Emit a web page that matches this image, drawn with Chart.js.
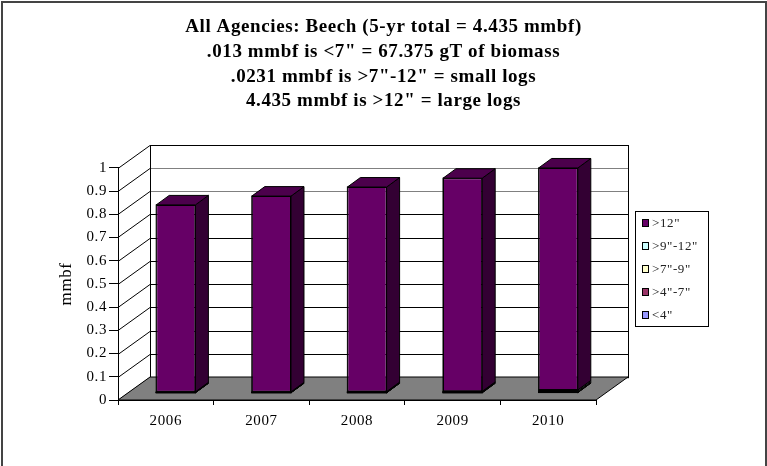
<!DOCTYPE html>
<html>
<head>
<meta charset="utf-8">
<script src="https://cdn.jsdelivr.net/npm/chart.js@4.4.1/dist/chart.umd.min.js"></script>
<style>
  body { margin: 0; background: #fff; }
  canvas { display: block; }
</style>
</head>
<body>
<canvas id="chart" width="767" height="466"></canvas>
<script>
// data (mmbf per year, stacked by diameter class)
const years = ['2006', '2007', '2008', '2009', '2010']
const under4 = [0.001, 0.001, 0.001, 0.001, 0.002]
const from4to7 = [0.001, 0.001, 0.001, 0.002, 0.002]
const from7to9 = [0.001, 0.001, 0.002, 0.002, 0.004]
const from9to12 = [0.002, 0.002, 0.002, 0.002, 0.0051]
const over12 = [0.805, 0.843, 0.881, 0.918, 0.956]

const seriesLabels = ['<4"', '>4"-7"', '>7"-9"', '>9"-12"', '>12"']
const seriesColors = ['#9999ff', '#993366', '#ffffcc', '#ccffff', '#660066']
const sideColors = ['#4d4d80', '#4d1a33', '#808066', '#668080', '#330033']
const topColor = '#4c004c'

const titleLines = [
  'All Agencies: Beech (5-yr total = 4.435 mmbf)',
  '.013 mmbf is <7" = 67.375 gT of biomass',
  '.0231 mmbf is >7"-12" = small logs',
  '4.435 mmbf is >12" = large logs'
]

const SERIF = '"Liberation Serif", "Times New Roman", serif'

// fake 3D geometry (pixels)
const WALL_DX = 32, WALL_DY = -23
const BAR_OFF_X = 10, BAR_OFF_Y = -7
const BAR_DX = 13, BAR_DY = -9.5

const excel3d = {
  id: 'excel3d',
  beforeDraw(chart) {
    const { ctx, chartArea: a } = chart
    const y = chart.scales.y
    ctx.save()
    ctx.fillStyle = '#fff'
    ctx.fillRect(0, 0, chart.width, chart.height)
    // outer frame
    ctx.strokeStyle = '#444'
    ctx.lineWidth = 2
    ctx.strokeRect(2, 2, chart.width - 3, chart.height + 10)

    ctx.lineWidth = 1
    ctx.strokeStyle = '#000'
    const bl = a.left + WALL_DX, br = a.right + WALL_DX
    const bt = a.top + WALL_DY, bb = a.bottom + WALL_DY

    // back wall
    ctx.fillStyle = '#fff'
    ctx.fillRect(bl, bt, br - bl, bb - bt)
    // gridlines on back wall + side wall
    y.ticks.forEach(t => {
      const py = Math.round(y.getPixelForValue(t.value)) + 0.5
      if (t.value > 0 && t.value < 1) {
        ctx.strokeStyle = t.value >= 0.75 ? '#808080' : '#000'
        ctx.beginPath()
        ctx.moveTo(bl, py + WALL_DY)
        ctx.lineTo(br, py + WALL_DY)
        ctx.stroke()
      }
      ctx.strokeStyle = '#000'
      ctx.beginPath()
      ctx.moveTo(a.left, py)
      ctx.lineTo(bl, py + WALL_DY)
      ctx.stroke()
    })
    ctx.strokeStyle = '#000'
    ctx.strokeRect(Math.round(bl) + 0.5, Math.round(bt) + 0.5, br - bl, bb - bt)

    // floor
    ctx.fillStyle = '#808080'
    ctx.beginPath()
    ctx.moveTo(a.left, a.bottom)
    ctx.lineTo(a.right, a.bottom)
    ctx.lineTo(br, bb)
    ctx.lineTo(bl, bb)
    ctx.closePath()
    ctx.fill()
    ctx.stroke()
    ctx.restore()
    // Excel renders its Times text a little wide
    ctx.letterSpacing = '0.6px'
  },
  beforeDatasetsDraw(chart) {
    chart.ctx.save()
    chart.ctx.translate(BAR_OFF_X, BAR_OFF_Y)
  },
  afterDatasetsDraw(chart) {
    const ctx = chart.ctx
    ctx.restore()
    ctx.save()
    ctx.lineWidth = 1
    ctx.strokeStyle = '#000'
    const n = chart.data.datasets.length
    years.forEach((_, i) => {
      for (let d = 0; d < n; d++) {
        const bar = chart.getDatasetMeta(d).data[i]
        const left = bar.x - bar.width / 2 + BAR_OFF_X
        const right = bar.x + bar.width / 2 + BAR_OFF_X
        const top = bar.y + BAR_OFF_Y
        const bottom = bar.base + BAR_OFF_Y
        // front outline (keeps thin slices visible)
        ctx.strokeRect(left, top, right - left, bottom - top)
        // side face
        ctx.fillStyle = sideColors[d]
        ctx.beginPath()
        ctx.moveTo(right, top)
        ctx.lineTo(right + BAR_DX, top + BAR_DY)
        ctx.lineTo(right + BAR_DX, bottom + BAR_DY)
        ctx.lineTo(right, bottom)
        ctx.closePath()
        ctx.fill()
        ctx.stroke()
        if (d === n - 1) {
          ctx.fillStyle = topColor
          ctx.beginPath()
          ctx.moveTo(left, top)
          ctx.lineTo(left + BAR_DX, top + BAR_DY)
          ctx.lineTo(right + BAR_DX, top + BAR_DY)
          ctx.lineTo(right, top)
          ctx.closePath()
          ctx.fill()
          ctx.stroke()
        }
      }
    })
    ctx.restore()
  },
  afterDraw(chart) {
    // legend box on the right, top series first
    const ctx = chart.ctx
    ctx.save()
    ctx.strokeStyle = '#000'
    ctx.lineWidth = 1
    ctx.strokeRect(635.5, 211.5, 73, 115)
    ctx.font = '13px ' + SERIF
    ctx.textBaseline = 'middle'
    ctx.textAlign = 'left'
    const n = seriesLabels.length
    for (let k = 0; k < n; k++) {
      const d = n - 1 - k
      const cy = 223 + k * 23
      ctx.fillStyle = seriesColors[d]
      ctx.fillRect(642, cy - 3.5, 7, 7)
      ctx.strokeRect(642.5, cy - 3.5, 6, 7)
      ctx.fillStyle = '#222'
      ctx.fillText(seriesLabels[d], 652, cy + 1)
    }
    ctx.restore()
    ctx.letterSpacing = '0px'
  }
}

const seriesData = [under4, from4to7, from7to9, from9to12, over12]

new Chart(document.getElementById('chart'), {
  type: 'bar',
  data: {
    labels: years,
    datasets: seriesData.map((vals, d) => ({
      label: seriesLabels[d],
      data: vals,
      backgroundColor: seriesColors[d],
      borderColor: '#000',
      borderWidth: 1,
      borderSkipped: false,
      barPercentage: 0.41,
      categoryPercentage: 1
    }))
  },
  options: {
    responsive: false,
    animation: false,
    layout: { padding: 0 },
    plugins: {
      legend: { display: false },
      tooltip: { enabled: false },
      title: {
        display: true,
        text: titleLines,
        color: '#000',
        font: { family: SERIF, size: 19, weight: 'bold', lineHeight: 1.3 },
        padding: { top: 15, bottom: 54 }
      }
    },
    scales: {
      x: {
        stacked: true,
        grid: { drawOnChartArea: false, offset: true, tickLength: 5, color: '#000' },
        border: { display: true, color: '#000' },
        ticks: { color: '#000', padding: 7, font: { family: SERIF, size: 15 } },
        afterFit(s) { s.height = 66 }
      },
      y: {
        stacked: true,
        min: 0,
        max: 1,
        ticks: {
          stepSize: 0.1,
          color: '#000',
          padding: 2,
          font: { family: SERIF, size: 15 },
          callback: v => String(+v.toFixed(1))
        },
        grid: { drawOnChartArea: false, tickLength: 9, color: '#000' },
        border: { display: true, color: '#000' },
        title: {
          display: true,
          text: 'mmbf',
          color: '#000',
          font: { family: SERIF, size: 17 },
          padding: { top: 56, bottom: 0 }
        },
        afterFit(s) { s.width = 118 }
      },
      spacer: {
        type: 'linear',
        position: 'right',
        display: true,
        grid: { display: false },
        border: { display: false },
        ticks: { display: false },
        afterFit(s) { s.width = 171 }
      }
    }
  },
  plugins: [excel3d]
})
</script>
</body>
</html>
